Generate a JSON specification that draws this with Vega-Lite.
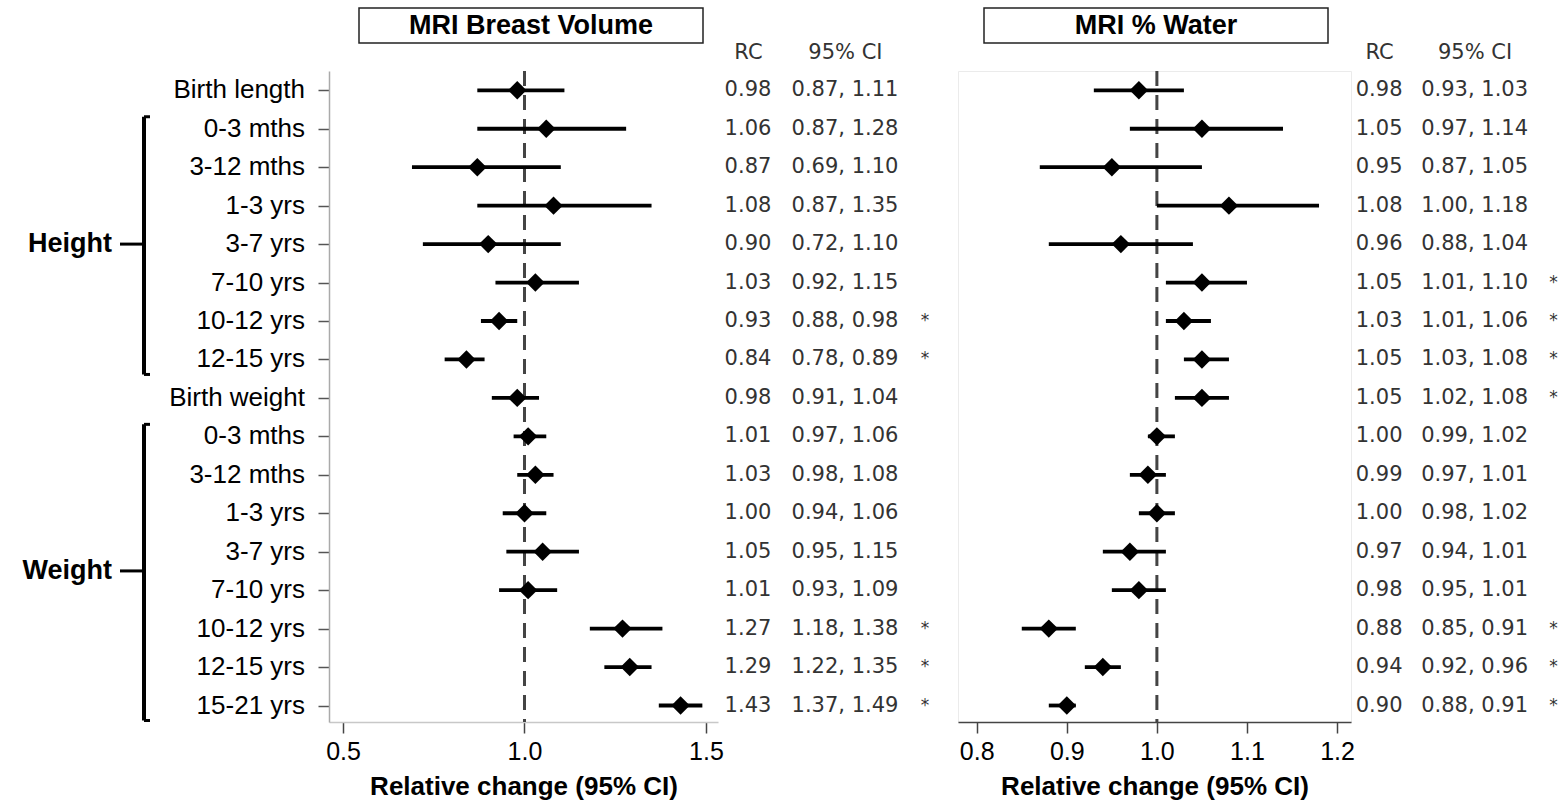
{
  "$schema": "https://vega.github.io/schema/vega-lite/v6.json",
  "background": "white",
  "padding": {"left": 22, "top": 7, "right": 0, "bottom": 0},
  "config": {
    "view": {"stroke": null},
    "font": "Liberation Sans",
    "axis": {"labelFont": "Liberation Sans", "titleFont": "Liberation Sans", "grid": false}
  },
  "datasets": {
    "rows": [
      {"row": 0, "label": "Birth length", "group": null, "vol_rc": 0.98, "vol_lo": 0.87, "vol_hi": 1.11, "vol_sig": "", "wat_rc": 0.98, "wat_lo": 0.93, "wat_hi": 1.03, "wat_sig": ""},
      {"row": 1, "label": "0-3 mths", "group": "Height", "vol_rc": 1.06, "vol_lo": 0.87, "vol_hi": 1.28, "vol_sig": "", "wat_rc": 1.05, "wat_lo": 0.97, "wat_hi": 1.14, "wat_sig": ""},
      {"row": 2, "label": "3-12 mths", "group": "Height", "vol_rc": 0.87, "vol_lo": 0.69, "vol_hi": 1.10, "vol_sig": "", "wat_rc": 0.95, "wat_lo": 0.87, "wat_hi": 1.05, "wat_sig": ""},
      {"row": 3, "label": "1-3 yrs", "group": "Height", "vol_rc": 1.08, "vol_lo": 0.87, "vol_hi": 1.35, "vol_sig": "", "wat_rc": 1.08, "wat_lo": 1.00, "wat_hi": 1.18, "wat_sig": ""},
      {"row": 4, "label": "3-7 yrs", "group": "Height", "vol_rc": 0.90, "vol_lo": 0.72, "vol_hi": 1.10, "vol_sig": "", "wat_rc": 0.96, "wat_lo": 0.88, "wat_hi": 1.04, "wat_sig": ""},
      {"row": 5, "label": "7-10 yrs", "group": "Height", "vol_rc": 1.03, "vol_lo": 0.92, "vol_hi": 1.15, "vol_sig": "", "wat_rc": 1.05, "wat_lo": 1.01, "wat_hi": 1.10, "wat_sig": "*"},
      {"row": 6, "label": "10-12 yrs", "group": "Height", "vol_rc": 0.93, "vol_lo": 0.88, "vol_hi": 0.98, "vol_sig": "*", "wat_rc": 1.03, "wat_lo": 1.01, "wat_hi": 1.06, "wat_sig": "*"},
      {"row": 7, "label": "12-15 yrs", "group": "Height", "vol_rc": 0.84, "vol_lo": 0.78, "vol_hi": 0.89, "vol_sig": "*", "wat_rc": 1.05, "wat_lo": 1.03, "wat_hi": 1.08, "wat_sig": "*"},
      {"row": 8, "label": "Birth weight", "group": null, "vol_rc": 0.98, "vol_lo": 0.91, "vol_hi": 1.04, "vol_sig": "", "wat_rc": 1.05, "wat_lo": 1.02, "wat_hi": 1.08, "wat_sig": "*"},
      {"row": 9, "label": "0-3 mths", "group": "Weight", "vol_rc": 1.01, "vol_lo": 0.97, "vol_hi": 1.06, "vol_sig": "", "wat_rc": 1.00, "wat_lo": 0.99, "wat_hi": 1.02, "wat_sig": ""},
      {"row": 10, "label": "3-12 mths", "group": "Weight", "vol_rc": 1.03, "vol_lo": 0.98, "vol_hi": 1.08, "vol_sig": "", "wat_rc": 0.99, "wat_lo": 0.97, "wat_hi": 1.01, "wat_sig": ""},
      {"row": 11, "label": "1-3 yrs", "group": "Weight", "vol_rc": 1.00, "vol_lo": 0.94, "vol_hi": 1.06, "vol_sig": "", "wat_rc": 1.00, "wat_lo": 0.98, "wat_hi": 1.02, "wat_sig": ""},
      {"row": 12, "label": "3-7 yrs", "group": "Weight", "vol_rc": 1.05, "vol_lo": 0.95, "vol_hi": 1.15, "vol_sig": "", "wat_rc": 0.97, "wat_lo": 0.94, "wat_hi": 1.01, "wat_sig": ""},
      {"row": 13, "label": "7-10 yrs", "group": "Weight", "vol_rc": 1.01, "vol_lo": 0.93, "vol_hi": 1.09, "vol_sig": "", "wat_rc": 0.98, "wat_lo": 0.95, "wat_hi": 1.01, "wat_sig": ""},
      {"row": 14, "label": "10-12 yrs", "group": "Weight", "vol_rc": 1.27, "vol_lo": 1.18, "vol_hi": 1.38, "vol_sig": "*", "wat_rc": 0.88, "wat_lo": 0.85, "wat_hi": 0.91, "wat_sig": "*"},
      {"row": 15, "label": "12-15 yrs", "group": "Weight", "vol_rc": 1.29, "vol_lo": 1.22, "vol_hi": 1.35, "vol_sig": "*", "wat_rc": 0.94, "wat_lo": 0.92, "wat_hi": 0.96, "wat_sig": "*"},
      {"row": 16, "label": "15-21 yrs", "group": "Weight", "vol_rc": 1.43, "vol_lo": 1.37, "vol_hi": 1.49, "vol_sig": "*", "wat_rc": 0.90, "wat_lo": 0.88, "wat_hi": 0.91, "wat_sig": "*"}
    ]
  },
  "columns": 6,
  "align": "each",
  "bounds": "full",
  "spacing": {"row": -3, "column": 0},
  "resolve": {"scale": {"x": "independent", "y": "independent"}},
  "concat": [
    {"width": 1, "height": 1, "data": {"values": []}, "mark": "point"},
    {"width": 1, "height": 1, "data": {"values": []}, "mark": "point"},
    {
      "spacing": 0,
      "hconcat": [
        {"width": 29, "height": 1, "data": {"values": []}, "mark": "point"},
        {
          "width": 344, "height": 35,
          "view": {"stroke": "#222", "strokeWidth": 1.5, "fill": "white"},
          "data": {"values": [{"t": "MRI Breast Volume"}]},
          "mark": {"type": "text", "font": "Liberation Sans", "fontWeight": "bold", "fontSize": 27, "color": "black", "baseline": "middle"},
          "encoding": {"text": {"field": "t"}}
        }
      ]
    },
    {"width": 1, "height": 1, "data": {"values": []}, "mark": "point"},
    {
      "spacing": 0,
      "hconcat": [
        {"width": 25, "height": 1, "data": {"values": []}, "mark": "point"},
        {
          "width": 344, "height": 35,
          "view": {"stroke": "#222", "strokeWidth": 1.5, "fill": "white"},
          "data": {"values": [{"t": "MRI % Water"}]},
          "mark": {"type": "text", "font": "Liberation Sans", "fontWeight": "bold", "fontSize": 27, "color": "black", "baseline": "middle"},
          "encoding": {"text": {"field": "t"}}
        }
      ]
    },
    {"width": 1, "height": 1, "data": {"values": []}, "mark": "point"},
    {
      "width": 24, "height": 651,
      "data": {"name": "rows"},
      "transform": [
        {"filter": "datum.group != null"},
        {"aggregate": [
          {"op": "min", "field": "row", "as": "first"},
          {"op": "max", "field": "row", "as": "last"},
          {"op": "mean", "field": "row", "as": "mid"}
        ], "groupby": ["group"]}
      ],
      "layer": [
        {
          "mark": {"type": "rule", "color": "black", "strokeWidth": 4, "yOffset": -12, "y2Offset": 15},
          "encoding": {
            "y": {"field": "first", "type": "quantitative", "scale": {"domain": [-0.502, 16.429], "reverse": true, "nice": false, "zero": false}, "axis": null},
            "y2": {"field": "last"},
            "x": {"value": "width"}
          }
        },
        {
          "mark": {"type": "rule", "color": "black", "strokeWidth": 3, "yOffset": -12, "x2Offset": 6},
          "encoding": {
            "y": {"field": "first", "type": "quantitative"},
            "x": {"value": "width"},
            "x2": {"value": "width"}
          }
        },
        {
          "mark": {"type": "rule", "color": "black", "strokeWidth": 3, "yOffset": 15, "x2Offset": 6},
          "encoding": {
            "y": {"field": "last", "type": "quantitative"},
            "x": {"value": "width"},
            "x2": {"value": "width"}
          }
        },
        {
          "mark": {"type": "rule", "color": "black", "strokeWidth": 3},
          "encoding": {"y": {"field": "mid", "type": "quantitative"}}
        },
        {
          "mark": {"type": "text", "font": "Liberation Sans", "fontWeight": "bold", "fontSize": 27, "color": "black", "align": "right", "baseline": "middle", "dx": -20},
          "encoding": {
            "y": {"field": "mid", "type": "quantitative"},
            "text": {"field": "group"}
          }
        }
      ]
    },
    {
      "width": 165, "height": 651,
      "data": {"name": "rows"},
      "mark": {"type": "text", "font": "Liberation Sans", "fontSize": 26, "color": "black", "align": "right", "baseline": "middle", "dx": -12},
      "encoding": {
        "y": {"field": "row", "type": "quantitative", "scale": {"domain": [-0.502, 16.429], "reverse": true, "nice": false, "zero": false}, "axis": null},
        "x": {"value": "width"},
        "text": {"field": "label"}
      }
    },
    {
      "width": 389, "height": 651,
      "data": {"name": "rows"},
      "layer": [
        {
          "data": {"values": [{"ref": 1}]},
          "mark": {"type": "rule", "color": "#444", "strokeWidth": 3, "strokeDash": [15, 9]},
          "encoding": {"x": {"field": "ref", "type": "quantitative"}}
        },
        {
          "mark": {"type": "rule", "color": "black", "strokeWidth": 3.8},
          "encoding": {
            "x": {"field": "vol_lo", "type": "quantitative"},
            "x2": {"field": "vol_hi"},
            "y": {"field": "row", "type": "quantitative"}
          }
        },
        {
          "mark": {"type": "point", "shape": "diamond", "filled": true, "size": 340, "color": "black", "opacity": 1},
          "encoding": {
            "x": {"field": "vol_rc", "type": "quantitative"},
            "y": {"field": "row", "type": "quantitative"}
          }
        }
      ],
      "encoding": {
        "x": {
          "type": "quantitative",
          "scale": {"domain": [0.4614, 1.5331], "nice": false, "zero": false},
          "axis": {"values": [0.5, 1.0, 1.5], "format": ".1f", "title": "Relative change (95% CI)", "titleFontSize": 26, "titleFontWeight": "bold", "titleColor": "black", "titlePadding": 9, "labelFontSize": 25, "labelColor": "black", "labelPadding": 6, "tickSize": 11, "tickColor": "#444", "tickWidth": 1.5, "domainColor": "#c8c8c8", "domainWidth": 1.5}
        },
        "y": {
          "type": "quantitative",
          "scale": {"domain": [-0.502, 16.429], "reverse": true, "nice": false, "zero": false},
          "axis": {"values": [0, 1, 2, 3, 4, 5, 6, 7, 8, 9, 10, 11, 12, 13, 14, 15, 16], "labels": false, "title": null, "tickSize": 11, "tickColor": "#555", "tickWidth": 1.5, "domainColor": "#aaa", "domainWidth": 1.5}
        }
      }
    },
    {
      "width": 231, "height": 651,
      "data": {"name": "rows"},
      "transform": [{"calculate": "format(datum.vol_lo, '.2f') + ', ' + format(datum.vol_hi, '.2f')", "as": "vol_ci"}],
      "layer": [
        {
          "mark": {"type": "text", "font": "DejaVu Sans", "fontSize": 21, "color": "#333", "baseline": "middle"},
          "encoding": {
            "x": {"datum": "RC", "type": "nominal"},
            "text": {"field": "vol_rc", "type": "quantitative", "format": ".2f"}
          }
        },
        {
          "mark": {"type": "text", "font": "DejaVu Sans", "fontSize": 21, "color": "#333", "baseline": "middle"},
          "encoding": {
            "x": {"datum": "95% CI", "type": "nominal"},
            "text": {"field": "vol_ci"}
          }
        },
        {
          "mark": {"type": "text", "font": "DejaVu Sans", "fontSize": 17, "color": "#333", "baseline": "middle", "dx": 80},
          "encoding": {
            "x": {"datum": "95% CI", "type": "nominal"},
            "text": {"field": "vol_sig"}
          }
        }
      ],
      "encoding": {
        "x": {
          "type": "nominal",
          "scale": {"type": "point", "domain": ["RC", "95% CI"], "padding": 0.691, "align": 0.164},
          "axis": {"orient": "top", "title": null, "domain": false, "ticks": false, "tickSize": 0, "labelFont": "DejaVu Sans", "labelFontSize": 21, "labelColor": "#333", "labelPadding": 9, "labelAngle": 0}
        },
        "y": {"field": "row", "type": "quantitative", "scale": {"domain": [-0.502, 16.429], "reverse": true, "nice": false, "zero": false}, "axis": null}
      }
    },
    {
      "width": 393, "height": 651,
      "view": {"stroke": "#ebebeb", "strokeWidth": 1},
      "data": {"name": "rows"},
      "layer": [
        {
          "data": {"values": [{"ref": 1}]},
          "mark": {"type": "rule", "color": "#444", "strokeWidth": 3, "strokeDash": [15, 9]},
          "encoding": {"x": {"field": "ref", "type": "quantitative"}}
        },
        {
          "mark": {"type": "rule", "color": "black", "strokeWidth": 3.8},
          "encoding": {
            "x": {"field": "wat_lo", "type": "quantitative"},
            "x2": {"field": "wat_hi"},
            "y": {"field": "row", "type": "quantitative"}
          }
        },
        {
          "mark": {"type": "point", "shape": "diamond", "filled": true, "size": 340, "color": "black", "opacity": 1},
          "encoding": {
            "x": {"field": "wat_rc", "type": "quantitative"},
            "y": {"field": "row", "type": "quantitative"}
          }
        }
      ],
      "encoding": {
        "x": {
          "type": "quantitative",
          "scale": {"domain": [0.7792, 1.2155], "nice": false, "zero": false},
          "axis": {"values": [0.8, 0.9, 1.0, 1.1, 1.2], "format": ".1f", "title": "Relative change (95% CI)", "titleFontSize": 26, "titleFontWeight": "bold", "titleColor": "black", "titlePadding": 9, "labelFontSize": 25, "labelColor": "black", "labelPadding": 6, "tickSize": 11, "tickColor": "#444", "tickWidth": 1.5, "domainColor": "#444", "domainWidth": 1.5}
        },
        "y": {
          "type": "quantitative",
          "scale": {"domain": [-0.502, 16.429], "reverse": true, "nice": false, "zero": false},
          "axis": null
        }
      }
    },
    {
      "width": 212, "height": 651,
      "data": {"name": "rows"},
      "transform": [{"calculate": "format(datum.wat_lo, '.2f') + ', ' + format(datum.wat_hi, '.2f')", "as": "wat_ci"}],
      "layer": [
        {
          "mark": {"type": "text", "font": "DejaVu Sans", "fontSize": 21, "color": "#333", "baseline": "middle"},
          "encoding": {
            "x": {"datum": "RC", "type": "nominal"},
            "text": {"field": "wat_rc", "type": "quantitative", "format": ".2f"}
          }
        },
        {
          "mark": {"type": "text", "font": "DejaVu Sans", "fontSize": 21, "color": "#333", "baseline": "middle"},
          "encoding": {
            "x": {"datum": "95% CI", "type": "nominal"},
            "text": {"field": "wat_ci"}
          }
        },
        {
          "mark": {"type": "text", "font": "DejaVu Sans", "fontSize": 17, "color": "#333", "baseline": "middle", "dx": 79},
          "encoding": {
            "x": {"datum": "95% CI", "type": "nominal"},
            "text": {"field": "wat_sig"}
          }
        }
      ],
      "encoding": {
        "x": {
          "type": "nominal",
          "scale": {"type": "point", "domain": ["RC", "95% CI"], "padding": 0.61, "align": 0.207},
          "axis": {"orient": "top", "title": null, "domain": false, "ticks": false, "tickSize": 0, "labelFont": "DejaVu Sans", "labelFontSize": 21, "labelColor": "#333", "labelPadding": 9, "labelAngle": 0}
        },
        "y": {"field": "row", "type": "quantitative", "scale": {"domain": [-0.502, 16.429], "reverse": true, "nice": false, "zero": false}, "axis": null}
      }
    }
  ]
}
